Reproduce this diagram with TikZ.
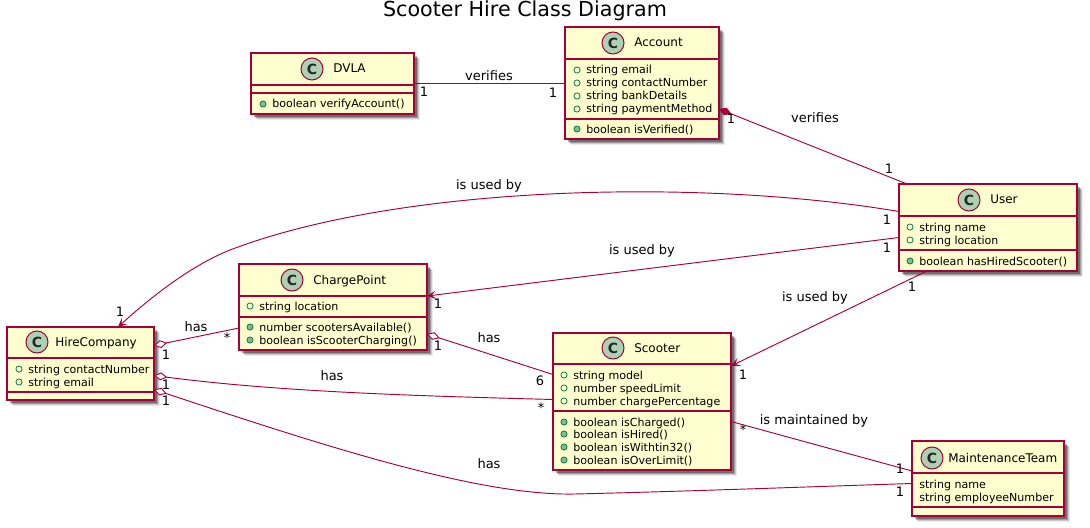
\documentclass[tikz,border=0pt]{standalone}
\usepackage{fontspec}
\setmainfont{DejaVu Sans}
\usetikzlibrary{arrows.meta,calc}
\definecolor{umlline}{HTML}{A80036}
\definecolor{umlfill}{HTML}{FEFECE}
\definecolor{umlcirc}{HTML}{ADD1B2}
\definecolor{attrgreen}{HTML}{038048}
\definecolor{methgreen}{HTML}{84BE84}
\newcount\txtcount
\tikzset{
  x=0.75pt,y=-0.75pt,
  classbox/.style={draw=umlline,fill=umlfill,line width=1.1pt,inner sep=0pt,outer sep=0pt,rectangle},
  sepline/.style={draw=umlline,line width=0.9pt},
  conn/.style={draw=umlline,line width=0.7pt},
  nametext/.style={inner sep=0pt,anchor=base west,font=\fontsize{9}{11}\selectfont,text=black},
  membertext/.style={inner sep=0pt,anchor=base west,font=\fontsize{8.3}{10}\selectfont,text=black},
  edgelabel/.style={inner sep=0pt,font=\fontsize{9.75}{12}\selectfont,text=black},
  titletext/.style={inner sep=0pt,font=\fontsize{15.5}{18}\selectfont,text=black},
  attrdot/.style={circle,draw=attrgreen,fill=none,line width=0.6pt,minimum size=4.6pt,inner sep=0pt},
  methdot/.style={circle,draw=attrgreen,fill=methgreen,line width=0.6pt,minimum size=4.6pt,inner sep=0pt},
  cbadge/.style={circle,draw=umlline,fill=umlcirc,line width=0.75pt,minimum size=16.5pt,inner sep=0pt,font=\fontsize{10.5}{12}\bfseries\selectfont,text=black!85},
  diam/.style={{Diamond[open,fill=white,length=10pt,width=6pt]}-},
  diamf/.style={{Diamond[fill=umlline,length=10pt,width=6pt]}-},
  barb/.style={-{Stealth[length=7pt,width=6.5pt,inset=3.5pt]}},
}
% id, x1,y1,x2,y2, sep1, sep2, badge x, badge y
\newcommand{\umlclass}[9]{%
  \foreach \sh/\op in {6/0.08,5/0.14,4/0.22,3/0.3}{%
    \fill[black,opacity=\op] (#2+\sh,#3+\sh) rectangle (#4+\sh,#5+\sh);}
  \node[classbox,minimum width={(#4-(#2))*0.75pt},minimum height={(#5-(#3))*0.75pt}] (#1) at ({(#2+#4)/2},{(#3+#5)/2}) {};
  \draw[sepline] (#2,#6) -- (#4,#6);
  \draw[sepline] (#2,#7) -- (#4,#7);
  \node[cbadge] (#1badge) at (#8,#9) {C};
}
\newcommand{\uname}[3]{\global\advance\txtcount by 1 \node[nametext] (n\the\txtcount) at (#1,#2+4) {#3};}
\newcommand{\uattr}[3]{\global\advance\txtcount by 1 \node[attrdot] (d\the\txtcount) at (#1,#2) {}; \node[membertext] (m\the\txtcount) at (#1+9,#2+4) {#3};}
\newcommand{\umeth}[3]{\global\advance\txtcount by 1 \node[methdot] (d\the\txtcount) at (#1,#2) {}; \node[membertext] (m\the\txtcount) at (#1+9,#2+4) {#3};}
\newcommand{\uplain}[3]{\global\advance\txtcount by 1 \node[membertext] (m\the\txtcount) at (#1,#2+4) {#3};}
\newcommand{\ulab}[3]{\global\advance\txtcount by 1 \node[edgelabel] (l\the\txtcount) at (#1,#2) {#3};}
\begin{document}
\begin{tikzpicture}
\useasboundingbox (0,0) rectangle (1090,528);
\node[titletext] (title) at (525,11) {Scooter Hire Class Diagram};

\umlclass{dvla}{251}{53}{414}{114}{85}{93}{312}{69}
\uname{333}{69}{DVLA}
\umeth{263}{104}{boolean verifyAccount()}

\umlclass{account}{565}{27}{719}{139}{59}{119}{613}{43}
\uname{634}{43}{Account}
\uattr{577}{70}{string email}
\uattr{577}{83}{string contactNumber}
\uattr{577}{96}{string bankDetails}
\uattr{577}{109}{string paymentMethod}
\umeth{577}{129}{boolean isVerified()}

\umlclass{user}{899}{184}{1077}{271}{216}{250}{969}{200}
\uname{990}{200}{User}
\uattr{910}{227}{string name}
\uattr{910}{240}{string location}
\umeth{910}{261}{boolean hasHiredScooter()}

\umlclass{charge}{239}{264}{427}{350}{296}{317}{292}{280}
\uname{313}{280}{ChargePoint}
\uattr{250}{306}{string location}
\umeth{250}{327}{number scootersAvailable()}
\umeth{250}{340}{boolean isScooterCharging()}

\umlclass{hire}{7}{327}{154}{400}{358}{392}{37}{342}
\uname{55}{342}{HireCompany}
\uattr{19}{369}{string contactNumber}
\uattr{19}{382}{string email}

\umlclass{scooter}{553}{333}{731}{470}{364}{411}{613}{348}
\uname{634}{348}{Scooter}
\uattr{564}{375}{string model}
\uattr{564}{388}{number speedLimit}
\uattr{564}{401}{number chargePercentage}
\umeth{564}{422}{boolean isCharged()}
\umeth{564}{434}{boolean isHired()}
\umeth{564}{447}{boolean isWithtin32()}
\umeth{564}{460}{boolean isOverLimit()}

\umlclass{maint}{912}{441}{1064}{516}{473}{507}{932}{458}
\uname{948}{458}{MaintenanceTeam}
\uplain{919}{484}{string name}
\uplain{919}{497}{string employeeNumber}

% connectors
\draw[conn] (dvla.east) -- (account.west |- dvla.east);
\draw[conn,diamf] ($(account.east)+(0,26)$) -- ($(user.north west)+(8,0)$);
\draw[conn,barb] ($(user.west)+(0,-16)$) .. controls (700,178) and (400,185) .. (230,250)
  .. controls (190,266) and (150,298) .. ($(hire.north west)+(111,0)$);
\draw[conn,barb] ($(user.west)+(0,10)$) -- ($(charge.east)+(0,-11)$);
\draw[conn,barb] ($(user.south west)+(28,0)$) -- ($(scooter.north east)+(0,33)$);
\draw[conn,diam] ($(hire.east)+(0,-18)$) -- ($(charge.west)+(0,21)$);
\draw[conn,diam] ($(charge.east)+(0,27)$) -- ($(scooter.west)+(0,-27)$);
\draw[conn,diam] ($(hire.east)+(0,12)$) .. controls (280,392) and (420,396) .. ($(scooter.west)+(0,-2)$);
\draw[conn,diam] ($(hire.east)+(0,26)$) .. controls (330,448) and (480,496) .. (575,494)
  .. controls (700,491) and (830,486) .. ($(maint.west)+(0,5)$);
\draw[conn] ($(scooter.east)+(0,20)$) -- ($(maint.north west)+(0,30)$);

% labels
\ulab{489}{76}{verifies}
\ulab{424}{92}{1}
\ulab{553}{93}{1}
\ulab{815}{118}{verifies}
\ulab{731}{119}{1}
\ulab{889}{169}{1}
\ulab{489}{186}{is used by}
\ulab{887}{220}{1}
\ulab{120}{312}{1}
\ulab{642}{251}{is used by}
\ulab{887}{248}{1}
\ulab{438}{304}{1}
\ulab{815}{298}{is used by}
\ulab{912}{287}{1}
\ulab{743}{375}{1}
\ulab{196}{327}{has}
\ulab{166}{355}{1}
\ulab{227}{338}{*}
\ulab{489}{338}{has}
\ulab{438}{346}{1}
\ulab{540}{381}{6}
\ulab{332}{376}{has}
\ulab{166}{385}{1}
\ulab{541}{408}{*}
\ulab{489}{464}{has}
\ulab{166}{401}{1}
\ulab{900}{492}{1}
\ulab{814}{421}{is maintained by}
\ulab{743}{430}{*}
\ulab{900}{469}{1}
\end{tikzpicture}
\end{document}
